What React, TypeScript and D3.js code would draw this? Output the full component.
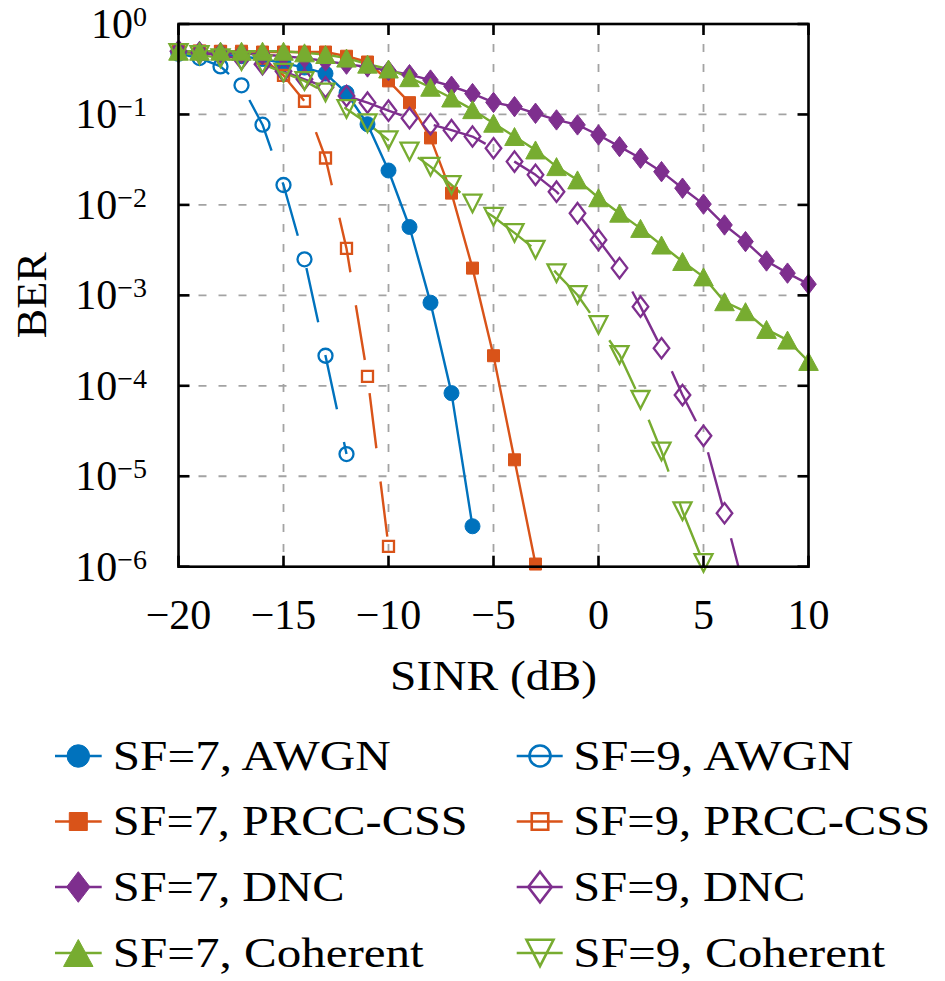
import React from 'react';
import * as d3 from 'd3';

// ---------- data ----------
const sinrAwgn7 = [-20, -19, -18, -17, -16, -15, -14, -13, -12, -11, -10, -9, -8, -7, -6];
const berAwgn7 = [0.49, 0.48, 0.46, 0.44, 0.41, 0.37, 0.33, 0.283, 0.173, 0.078, 0.024, 0.0057, 8.3e-4, 8.3e-5, 2.8e-6];

const sinrAwgn9 = [-20, -19, -18, -17, -16, -15, -14, -13, -12];
const berAwgn9 = [0.47, 0.42, 0.34, 0.21, 0.077, 0.0166, 2.5e-3, 2.15e-4, 1.76e-5];

const sinrPrcc7 = [-20, -19, -18, -17, -16, -15, -14, -13, -12, -11, -10, -9, -8, -7, -6, -5, -4, -3];
const berPrcc7 = [0.5, 0.5, 0.5, 0.5, 0.49, 0.49, 0.49, 0.49, 0.44, 0.38, 0.235, 0.135, 0.055, 0.0135, 0.002, 2.15e-4, 1.52e-5, 1.07e-6];

const sinrPrcc9 = [-20, -19, -18, -17, -16, -15, -14, -13, -12, -11, -10];
const berPrcc9 = [0.5, 0.5, 0.49, 0.47, 0.42, 0.27, 0.14, 0.033, 3.3e-3, 1.27e-4, 1.68e-6];

const sinrDnc7 = [-20, -19, -18, -17, -16, -15, -14, -13, -12, -11, -10, -9, -8, -7, -6, -5, -4, -3, -2, -1, 0, 1, 2, 3, 4, 5, 6, 7, 8, 9, 10];
const berDnc7 = [0.5, 0.49, 0.48, 0.47, 0.46, 0.44, 0.42, 0.39, 0.36, 0.335, 0.305, 0.275, 0.24, 0.205, 0.17, 0.136, 0.122, 0.103, 0.087, 0.0766, 0.0593, 0.0441, 0.0328, 0.0233, 0.0153, 0.0102, 6.0e-3, 3.93e-3, 2.4e-3, 1.76e-3, 1.33e-3];

const sinrDnc9 = [-20, -19, -18, -17, -16, -15, -14, -13, -12, -11, -10, -9, -8, -7, -6, -5, -4, -3, -2, -1, 0, 1, 2, 3, 4, 5, 6, 7];
const berDnc9 = [0.5, 0.48, 0.45, 0.41, 0.36, 0.3, 0.245, 0.2, 0.16, 0.135, 0.11, 0.091, 0.078, 0.067, 0.057, 0.0423, 0.0301, 0.0215, 0.014, 0.0081, 0.0041, 0.002, 7.5e-4, 2.6e-4, 7.9e-5, 2.8e-5, 3.9e-6, 5e-7];

const sinrCoh7 = [-20, -19, -18, -17, -16, -15, -14, -13, -12, -11, -10, -9, -8, -7, -6, -5, -4, -3, -2, -1, 0, 1, 2, 3, 4, 5, 6, 7, 8, 9, 10];
const berCoh7 = [0.5, 0.5, 0.5, 0.5, 0.5, 0.5, 0.48, 0.46, 0.42, 0.36, 0.318, 0.255, 0.2, 0.152, 0.113, 0.08, 0.057, 0.0405, 0.0265, 0.0189, 0.012, 8.1e-3, 5.5e-3, 3.6e-3, 2.37e-3, 1.6e-3, 8.5e-4, 6.6e-4, 4.2e-4, 3.2e-4, 1.86e-4];

const sinrCoh9 = [-20, -19, -18, -17, -16, -15, -14, -13, -12, -11, -10, -9, -8, -7, -6, -5, -4, -3, -2, -1, 0, 1, 2, 3, 4, 5];
const berCoh9 = [0.48, 0.455, 0.42, 0.39, 0.36, 0.29, 0.235, 0.175, 0.115, 0.08, 0.052, 0.039, 0.0265, 0.0166, 0.0104, 0.0074, 0.0049, 0.0032, 0.00176, 0.00101, 4.7e-4, 2.2e-4, 7.0e-5, 1.88e-5, 4.1e-6, 1.1e-6];

const xTicks = [-20, -15, -10, -5, 0, 5, 10];
const xTickLabels = ['\u221220', '\u221215', '\u221210', '\u22125', '0', '5', '10'];
const yTicks = [1, 1e-1, 1e-2, 1e-3, 1e-4, 1e-5, 1e-6];
const yTickExponents = ['0', '\u22121', '\u22122', '\u22123', '\u22124', '\u22125', '\u22126'];

const legendLabels = [
  'SF=7, AWGN', 'SF=9, AWGN',
  'SF=7, PRCC-CSS', 'SF=9, PRCC-CSS',
  'SF=7, DNC', 'SF=9, DNC',
  'SF=7, Coherent', 'SF=9, Coherent',
];

// ---------- styling ----------
const BLUE = '#0072BD';
const ORANGE = '#D95319';
const PURPLE = '#7E2F8E';
const GREEN = '#77AC30';
const FONT = "'Liberation Serif', 'DejaVu Serif', serif";

type Marker = 'circle' | 'square' | 'diamond' | 'tri-up' | 'tri-down';
interface Series { x: number[]; y: number[]; color: string; marker: Marker; filled: boolean; dashed: boolean; label: string; }

const series: Series[] = [
  { x: sinrAwgn7, y: berAwgn7, color: BLUE, marker: 'circle', filled: true, dashed: false, label: legendLabels[0] },
  { x: sinrAwgn9, y: berAwgn9, color: BLUE, marker: 'circle', filled: false, dashed: true, label: legendLabels[1] },
  { x: sinrPrcc7, y: berPrcc7, color: ORANGE, marker: 'square', filled: true, dashed: false, label: legendLabels[2] },
  { x: sinrPrcc9, y: berPrcc9, color: ORANGE, marker: 'square', filled: false, dashed: true, label: legendLabels[3] },
  { x: sinrDnc7, y: berDnc7, color: PURPLE, marker: 'diamond', filled: true, dashed: false, label: legendLabels[4] },
  { x: sinrDnc9, y: berDnc9, color: PURPLE, marker: 'diamond', filled: false, dashed: true, label: legendLabels[5] },
  { x: sinrCoh7, y: berCoh7, color: GREEN, marker: 'tri-up', filled: true, dashed: false, label: legendLabels[6] },
  { x: sinrCoh9, y: berCoh9, color: GREEN, marker: 'tri-down', filled: false, dashed: true, label: legendLabels[7] },
];

function markerPath(m: Marker, cx: number, cy: number, s: number, filled: boolean): string {
  switch (m) {
    case 'circle': {
      const r = (filled ? 7.5 : 7) * s;
      return `M${cx - r},${cy}a${r},${r} 0 1,0 ${2 * r},0a${r},${r} 0 1,0 ${-2 * r},0Z`;
    }
    case 'square': {
      const h = (filled ? 6 : 5.5) * s;
      return `M${cx - h},${cy - h}H${cx + h}V${cy + h}H${cx - h}Z`;
    }
    case 'diamond': {
      const w = 7.8 * s, h = 10.2 * s;
      return `M${cx},${cy - h}L${cx + w},${cy}L${cx},${cy + h}L${cx - w},${cy}Z`;
    }
    case 'tri-up': {
      const w = 9.8 * s, h = 9 * s;
      return `M${cx},${cy - h}L${cx + w},${cy + h}L${cx - w},${cy + h}Z`;
    }
    case 'tri-down': {
      const w = 9 * s, h = 8.8 * s;
      return `M${cx - w},${cy - h}L${cx + w},${cy - h}L${cx},${cy + h}Z`;
    }
  }
}

const X0 = 178.5, X1 = 808.5, Y0 = 24, Y1 = 566.7;

export default function App() {
  const x = d3.scaleLinear().domain([-20, 10]).range([X0, X1]);
  const y = d3.scaleLog().domain([1e-6, 1]).range([Y1, Y0]);
  const line = d3.line<[number, number]>().x(d => x(d[0])).y(d => y(d[1]));

  const legendWidths = [278, 280, 355, 357, 232, 232, 311, 312];
  const legendRowsY = [756, 821.5, 887, 953];
  const legendColX = [{ l0: 55, l1: 101.7, m: 78.3, t: 112.7 }, { l0: 516.7, l1: 562.7, m: 540, t: 573.3 }];

  return (
    <svg width={945} height={981} style={{ position: 'absolute', left: 0, top: 0, background: '#fff' }}
      fontFamily={FONT}>
      <defs>
        <clipPath id="plotclip">
          <rect x={X0} y={Y0} width={X1 - X0} height={Y1 - Y0} />
        </clipPath>
      </defs>
      <rect x={0} y={0} width={945} height={981} fill="#fff" />
      {/* grid */}
      <g stroke="#a3a3a3" strokeWidth={1.8} strokeDasharray="8 12">
        {xTicks.slice(1, -1).map(t => (
          <line key={'gx' + t} x1={x(t)} x2={x(t)} y1={Y0} y2={Y1} />
        ))}
        {yTicks.slice(1, -1).map(t => (
          <line key={'gy' + t} x1={X0} x2={X1} y1={y(t)} y2={y(t)} />
        ))}
      </g>
      {/* series lines */}
      <g clipPath="url(#plotclip)" fill="none">
        {series.map((s, i) => (
          <path key={'l' + i} d={line(s.x.map((v, j) => [v, s.y[j]] as [number, number])) || ''}
            stroke={s.color} strokeWidth={2.4} strokeDasharray={s.dashed ? '55.5 33.5' : undefined}
            strokeLinejoin="round" />
        ))}
      </g>
      {/* markers */}
      {series.map((s, i) => (
        <g key={'m' + i}>
          {s.x.map((v, j) => {
            const val = s.y[j];
            if (val < 0.9e-6) return null;
            return (
              <path key={j} d={markerPath(s.marker, x(v), y(val), 1, s.filled)}
                fill={s.filled ? s.color : 'none'} stroke={s.color}
                strokeWidth={s.filled ? 1 : 2.3} strokeLinejoin="miter" />
            );
          })}
        </g>
      ))}
      {/* axes box and ticks */}
      <g stroke="#000" strokeWidth={2.6} fill="none">
        <rect x={X0} y={Y0} width={X1 - X0} height={Y1 - Y0} />
        {xTicks.map(t => (
          <g key={'tx' + t}>
            <line x1={x(t)} x2={x(t)} y1={Y1} y2={Y1 - 11} />
            <line x1={x(t)} x2={x(t)} y1={Y0} y2={Y0 + 11} />
          </g>
        ))}
        {yTicks.map(t => (
          <g key={'ty' + t}>
            <line x1={X0} x2={X0 + 11} y1={y(t)} y2={y(t)} />
            <line x1={X1} x2={X1 - 11} y1={y(t)} y2={y(t)} />
          </g>
        ))}
      </g>
      {/* tick labels */}
      <g fill="#000" fontSize={42}>
        {xTicks.map((t, i) => (
          <text key={'xl' + t} x={x(t)} y={629} textAnchor="middle">{xTickLabels[i]}</text>
        ))}
        {yTicks.map((t, i) => (
          <text key={'yl' + i} x={147} y={y(t) + 14} textAnchor="end">
            10<tspan dy={-12} fontSize={28}>{yTickExponents[i]}</tspan>
          </text>
        ))}
      </g>
      {/* axis labels */}
      <text x={(X0 + X1) / 2} y={690} textAnchor="middle" fontSize={42} textLength={207}
        lengthAdjust="spacingAndGlyphs">SINR (dB)</text>
      <text transform={`translate(46, ${(Y0 + Y1) / 2}) rotate(-90)`} textAnchor="middle" fontSize={42}
        textLength={86} lengthAdjust="spacingAndGlyphs">BER</text>
      {/* legend */}
      {series.map((s, i) => {
        const row = Math.floor(i / 2), col = i % 2;
        const c = legendColX[col];
        const cy = legendRowsY[row];
        return (
          <g key={'lg' + i}>
            <line x1={c.l0} x2={c.l1} y1={cy} y2={cy} stroke={s.color} strokeWidth={2.6} />
            <path d={markerPath(s.marker, c.m, cy, 1.5, s.filled)} fill={s.filled ? s.color : '#fff'}
              fillOpacity={s.filled ? 1 : 0} stroke={s.color} strokeWidth={s.filled ? 1 : 2.6} />
            <text x={c.t} y={cy + 13.5} fontSize={42} textLength={legendWidths[i]}
              lengthAdjust="spacingAndGlyphs">{s.label}</text>
          </g>
        );
      })}
    </svg>
  );
}
